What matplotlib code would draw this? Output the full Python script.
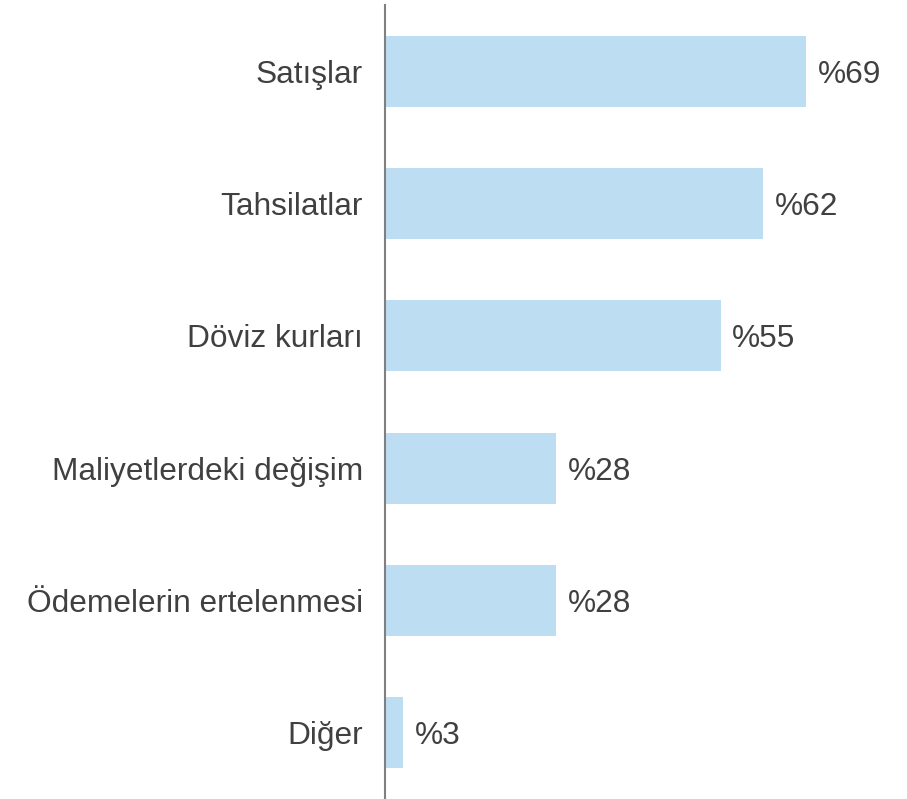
import matplotlib
matplotlib.use("Agg")
import matplotlib.pyplot as plt

categories = ["Satışlar", "Tahsilatlar", "Döviz kurları", "Maliyetlerdeki değişim",
              "Ödemelerin ertelenmesi", "Diğer"]
values = [69, 62, 55, 28, 28, 3]
value_labels = ["%69", "%62", "%55", "%28", "%28", "%3"]

plt.rcParams['font.family'] = ['Liberation Sans', 'DejaVu Sans']

W, H = 907, 799
fig = plt.figure(figsize=(W / 100, H / 100), dpi=100)
left = 385 / W
ax = fig.add_axes([left, 0, 1 - left, 1 - 5 / H])

ypos = list(range(len(categories)))
ax.barh(ypos, values, height=0.536, color="#BDDEF2", zorder=2)
ax.set_xlim(0, (W - 385) / 6.1)
ax.set_ylim(len(categories) - 0.5, -0.5)

text_color = "#404040"
for y, v, lab in zip(ypos, values, value_labels):
    ax.annotate(lab, (v, y), xytext=(8.5, 0), textcoords="offset points",
                ha="left", va="center_baseline", fontsize=22.8, color=text_color)

ax.set_yticks(ypos)
ax.set_yticklabels(categories, fontsize=22.8, color=text_color)
for t in ax.get_yticklabels():
    t.set_verticalalignment("center_baseline")
ax.tick_params(axis="y", length=0, pad=16)
ax.set_xticks([])
for s in ["top", "right", "bottom"]:
    ax.spines[s].set_visible(False)
ax.spines["left"].set_color("#808080")
ax.spines["left"].set_linewidth(1.5)

fig.savefig("out.png", dpi=100)
